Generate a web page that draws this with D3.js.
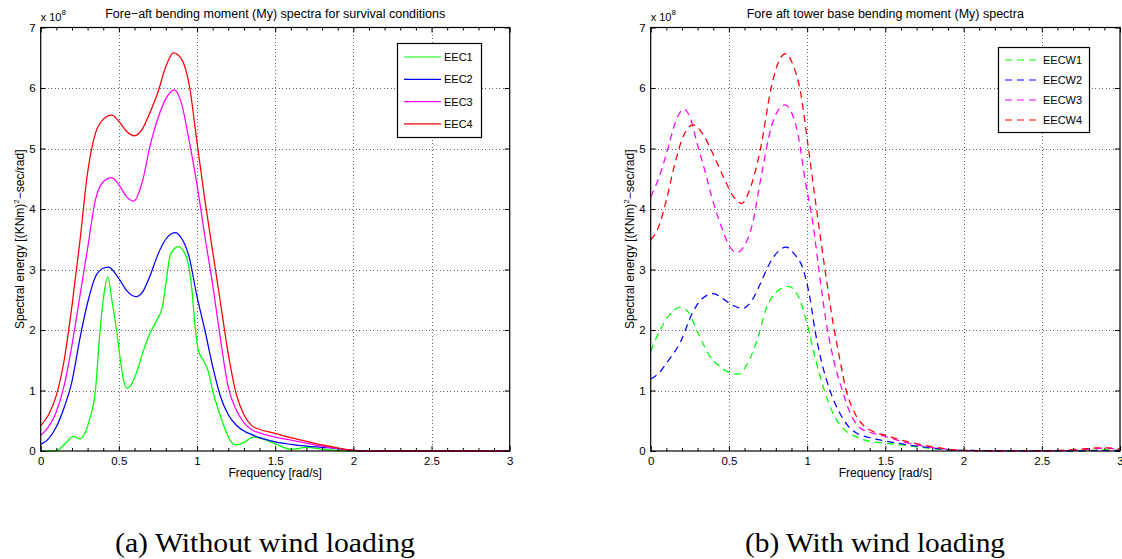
<!DOCTYPE html>
<html>
<head>
<meta charset="utf-8">
<script src="https://cdn.jsdelivr.net/npm/d3@7"></script>
<style>
  html, body { margin: 0; padding: 0; background: #fff; }
  svg { display: block; }
  text { fill: #000; }
</style>
</head>
<body>
<svg id="chart" width="1122" height="559"></svg>
<script>
// Tower-base fore-aft bending moment spectra, values in 1e8 (kNm)^2·s/rad,
// each series given as [frequency rad/s, spectral energy] knots.

// (a) without wind loading
const eec1 = [[0,0],[0.08,0],[0.12,0.03],[0.166,0.15],[0.21,0.24],[0.25,0.2],[0.28,0.28],[0.31,0.5],
  [0.35,1.0],[0.38,2.0],[0.405,2.6],[0.43,2.88],[0.455,2.5],[0.485,2.0],[0.51,1.5],[0.53,1.17],
  [0.55,1.04],[0.58,1.1],[0.62,1.35],[0.656,1.65],[0.7,1.95],[0.74,2.15],[0.78,2.4],[0.8,2.75],
  [0.83,3.25],[0.88,3.38],[0.93,3.22],[0.965,2.72],[0.99,2.0],[1.01,1.65],[1.04,1.5],[1.07,1.33],
  [1.1,1.0],[1.16,0.5],[1.21,0.18],[1.25,0.1],[1.3,0.14],[1.36,0.23],[1.42,0.2],[1.5,0.12],
  [1.6,0.03],[1.7,0.06],[1.8,0.03],[1.9,0.01],[2.0,0],[3,0]];
const eec2 = [[0,0.11],[0.05,0.2],[0.1,0.4],[0.15,0.72],[0.2,1.15],[0.25,1.85],[0.3,2.45],[0.35,2.88],
  [0.4,3.02],[0.433,3.04],[0.5,2.85],[0.55,2.65],[0.61,2.55],[0.65,2.62],[0.7,2.9],[0.75,3.25],
  [0.8,3.5],[0.86,3.61],[0.9,3.52],[0.95,3.2],[1.0,2.55],[1.05,2.0],[1.1,1.4],[1.15,0.9],
  [1.2,0.6],[1.25,0.43],[1.3,0.33],[1.35,0.27],[1.4,0.22],[1.5,0.15],[1.6,0.11],[1.7,0.08],
  [1.8,0.06],[1.9,0.04],[2.0,0.01],[2.1,0],[3,0]];
const eec3 = [[0,0.26],[0.05,0.4],[0.1,0.65],[0.15,1.08],[0.2,1.75],[0.25,2.55],[0.3,3.35],[0.35,4.15],
  [0.4,4.45],[0.454,4.52],[0.5,4.4],[0.55,4.2],[0.595,4.13],[0.65,4.45],[0.7,5.05],[0.75,5.5],
  [0.8,5.82],[0.855,5.97],[0.9,5.75],[0.95,5.12],[1.0,4.4],[1.05,3.55],[1.1,2.75],[1.15,1.85],
  [1.2,1.05],[1.25,0.68],[1.3,0.47],[1.35,0.35],[1.4,0.3],[1.5,0.23],[1.6,0.18],[1.7,0.13],
  [1.8,0.08],[1.9,0.04],[2.0,0.01],[2.1,0],[3,0]];
const eec4 = [[0,0.42],[0.05,0.6],[0.1,0.92],[0.15,1.5],[0.2,2.4],[0.25,3.45],[0.3,4.6],[0.35,5.25],
  [0.4,5.48],[0.454,5.55],[0.5,5.45],[0.55,5.28],[0.597,5.21],[0.65,5.32],[0.7,5.6],[0.75,5.93],
  [0.8,6.35],[0.849,6.58],[0.9,6.48],[0.95,6.05],[1.0,5.1],[1.05,4.15],[1.1,3.3],[1.15,2.45],
  [1.2,1.6],[1.25,0.95],[1.3,0.6],[1.35,0.42],[1.4,0.36],[1.5,0.29],[1.6,0.22],[1.7,0.16],
  [1.8,0.1],[1.9,0.05],[2.0,0.01],[2.1,0],[3,0]];

// (b) with wind loading
const eecw1 = [[0,1.65],[0.06,2.0],[0.12,2.25],[0.187,2.375],[0.24,2.3],[0.294,2.0],[0.38,1.56],
  [0.45,1.38],[0.51,1.29],[0.56,1.27],[0.62,1.45],[0.68,1.83],[0.742,2.38],[0.8,2.62],[0.88,2.72],
  [0.95,2.52],[1.0,2.1],[1.05,1.55],[1.11,1.0],[1.17,0.6],[1.24,0.35],[1.3,0.25],[1.38,0.17],
  [1.5,0.13],[1.6,0.1],[1.7,0.07],[1.8,0.04],[1.9,0.02],[2.0,0.01],[2.5,0],[2.8,0.01],[2.9,0.02],[3,0.01]];
const eecw2 = [[0,1.19],[0.05,1.28],[0.1,1.45],[0.19,1.8],[0.27,2.3],[0.33,2.52],[0.4,2.6],[0.46,2.52],
  [0.53,2.4],[0.59,2.36],[0.65,2.5],[0.7,2.76],[0.76,3.1],[0.815,3.3],[0.865,3.37],[0.92,3.25],
  [0.975,3.0],[1.02,2.5],[1.05,2.0],[1.09,1.5],[1.146,1.0],[1.21,0.62],[1.26,0.42],[1.32,0.29],
  [1.4,0.22],[1.5,0.165],[1.6,0.12],[1.7,0.08],[1.8,0.05],[1.9,0.02],[2.0,0.01],[2.5,0],[3,0.01]];
const eecw3 = [[0,4.2],[0.05,4.5],[0.11,5.0],[0.16,5.45],[0.213,5.65],[0.26,5.45],[0.3,5.05],[0.35,4.6],
  [0.39,4.2],[0.45,3.72],[0.5,3.4],[0.55,3.28],[0.6,3.4],[0.646,3.71],[0.71,4.59],[0.77,5.35],
  [0.82,5.65],[0.86,5.72],[0.9,5.6],[0.944,5.2],[0.987,4.48],[1.04,3.71],[1.075,3.0],[1.13,2.0],
  [1.17,1.5],[1.225,1.0],[1.28,0.6],[1.33,0.4],[1.4,0.31],[1.5,0.24],[1.6,0.16],[1.7,0.1],
  [1.8,0.06],[1.9,0.03],[2.0,0.01],[2.4,0],[2.7,0.01],[2.8,0.03],[2.9,0.05],[2.95,0.04],[3,0.03]];
const eecw4 = [[0,3.49],[0.05,3.7],[0.1,4.15],[0.15,4.7],[0.2,5.15],[0.272,5.39],[0.33,5.25],[0.4,4.9],
  [0.47,4.5],[0.53,4.2],[0.582,4.09],[0.63,4.3],[0.7,4.97],[0.77,6.0],[0.82,6.45],[0.863,6.57],
  [0.91,6.38],[0.955,5.97],[1.01,4.97],[1.06,4.0],[1.114,3.0],[1.17,2.05],[1.21,1.5],[1.25,1.0],
  [1.3,0.65],[1.35,0.45],[1.4,0.35],[1.45,0.29],[1.5,0.26],[1.6,0.18],[1.7,0.12],[1.8,0.07],
  [1.9,0.03],[2.0,0.01],[2.3,0],[2.6,0.01],[2.75,0.03],[2.85,0.05],[2.92,0.05],[3,0.03]];

const namesA = ["EEC1", "EEC2", "EEC3", "EEC4"];
const namesB = ["EECW1", "EECW2", "EECW3", "EECW4"];
const seriesColors = ["#00ff00", "#0000ff", "#ff00ff", "#ff0000"];

const freqTicks = [0, 0.5, 1, 1.5, 2, 2.5, 3];
const freqTickLabels = ["0", "0.5", "1", "1.5", "2", "2.5", "3"];
const energyTicks = [0, 1, 2, 3, 4, 5, 6, 7];
const energyTickLabels = ["0", "1", "2", "3", "4", "5", "6", "7"];

const titles = ["Fore\u2212aft bending moment (My) spectra for survival conditions",
                "Fore aft tower base bending moment (My) spectra"];
const captions = ["(a) Without wind loading", "(b) With wind loading"];

const SANS = "'Liberation Sans', Arial, sans-serif";
const SERIF = "'Liberation Serif', 'Times New Roman', serif";

const svg = d3.select("#chart");
svg.append("rect").attr("width", 1122).attr("height", 559).attr("fill", "#fff");

const panels = [
  { left: 40.7, right: 509.7, series: [eec1, eec2, eec3, eec4], names: namesA, dash: null,
    title: titles[0], caption: captions[0], capX: 265, capW: 300,
    legend: { x: 397, y: 43, w: 84, h: 94, line0: 404, line1: 441, textX: 444, row0: 57, step: 22.3 } },
  { left: 650.7, right: 1120, series: [eecw1, eecw2, eecw3, eecw4], names: namesB, dash: "7,5",
    title: titles[1], caption: captions[1], capX: 875, capW: 260,
    legend: { x: 998, y: 47, w: 91, h: 85, line0: 1005, line1: 1038, textX: 1043, row0: 60, step: 20 } }
];
const plotTop = 27.5, plotBottom = 451;

panels.forEach(p => {
  const x = d3.scaleLinear().domain([0, 3]).range([p.left, p.right]);
  const y = d3.scaleLinear().domain([0, 7]).range([plotBottom, plotTop]);
  const g = svg.append("g").style("font-family", SANS);

  // dotted grid at the major ticks
  const gridStyle = sel => sel.attr("stroke", "#666").attr("stroke-width", 1)
    .attr("stroke-dasharray", "1,2.5").attr("shape-rendering", "crispEdges");
  g.selectAll(".vg").data(freqTicks.slice(1, -1)).join("line")
    .attr("x1", d => Math.round(x(d)) + 0.5).attr("x2", d => Math.round(x(d)) + 0.5)
    .attr("y1", plotTop).attr("y2", plotBottom).call(gridStyle);
  g.selectAll(".hg").data(energyTicks.slice(1, -1)).join("line")
    .attr("x1", p.left).attr("x2", p.right)
    .attr("y1", d => Math.round(y(d)) + 0.5).attr("y2", d => Math.round(y(d)) + 0.5).call(gridStyle);

  // spectra
  const line = d3.line().x(d => x(d[0])).y(d => y(d[1])).curve(d3.curveMonotoneX);
  p.series.forEach((s, i) => {
    g.append("path").datum(s).attr("d", line).attr("fill", "none")
      .attr("stroke", seriesColors[i]).attr("stroke-width", 1.25)
      .attr("stroke-dasharray", p.dash);
  });

  // axes: bottom/left with labels, top/right mirrored, ticks pointing inward
  const minor = d3.range(1, 30).map(k => k / 10).filter(v => Math.abs(v * 2 - Math.round(v * 2)) > 1e-6);
  const xAxis = d3.axisBottom(x).tickValues(freqTicks).tickSize(-5).tickPadding(6)
    .tickFormat((d, i) => freqTickLabels[i]);
  const yAxis = d3.axisLeft(y).tickValues(energyTicks).tickSize(-5).tickPadding(5)
    .tickFormat((d, i) => energyTickLabels[i]);
  const styleAxis = ax => {
    ax.select(".domain").remove();
    ax.attr("font-family", null);
    ax.selectAll("line").attr("stroke", "#000");
    ax.selectAll("text").attr("font-size", 11.5);
  };
  g.append("g").attr("transform", `translate(0,${plotBottom})`).call(xAxis).call(styleAxis);
  g.append("g").attr("transform", `translate(${p.left},0)`).call(yAxis).call(styleAxis);
  g.append("g").attr("transform", `translate(0,${plotTop})`)
    .call(d3.axisTop(x).tickValues(freqTicks).tickSize(-5).tickFormat(""))
    .call(styleAxis);
  g.append("g").attr("transform", `translate(${p.right},0)`)
    .call(d3.axisRight(y).tickValues(energyTicks).tickSize(-5).tickFormat(""))
    .call(styleAxis);
  g.append("g").attr("transform", `translate(0,${plotBottom})`)
    .call(d3.axisBottom(x).tickValues(minor).tickSize(-3).tickFormat("")).call(styleAxis);
  g.append("g").attr("transform", `translate(0,${plotTop})`)
    .call(d3.axisTop(x).tickValues(minor).tickSize(-3).tickFormat("")).call(styleAxis);

  // frame
  g.append("rect").attr("x", p.left).attr("y", plotTop).attr("width", p.right - p.left)
    .attr("height", plotBottom - plotTop).attr("fill", "none").attr("stroke", "#000").attr("stroke-width", 1.2);

  // exponent marker
  const ex = g.append("text").attr("x", p.left).attr("y", 21).attr("font-size", 11);
  ex.append("tspan").text("x 10");
  ex.append("tspan").attr("dy", -6).attr("font-size", 8).text("8");

  // title and axis labels
  g.append("text").attr("x", (p.left + p.right) / 2).attr("y", 18).attr("text-anchor", "middle")
    .attr("font-size", 12.5).text(p.title);
  g.append("text").attr("x", (p.left + p.right) / 2).attr("y", 477).attr("text-anchor", "middle")
    .attr("font-size", 12).text("Frequency [rad/s]");
  const yl = g.append("text").attr("transform", `translate(${p.left - 17},${(plotTop + plotBottom) / 2}) rotate(-90)`)
    .attr("text-anchor", "middle").attr("font-size", 12);
  yl.append("tspan").text("Spectral energy [(KNm)");
  yl.append("tspan").attr("dy", -5).attr("font-size", 8).text("2");
  yl.append("tspan").attr("dy", 5).text("\u2212sec/rad]");

  // legend
  const L = p.legend;
  const lg = g.append("g");
  lg.append("rect").attr("x", L.x + 0.5).attr("y", L.y + 0.5).attr("width", L.w).attr("height", L.h)
    .attr("fill", "#fff").attr("stroke", "#000").attr("stroke-width", 1.2);
  p.names.forEach((n, i) => {
    const yy = L.row0 + i * L.step;
    lg.append("line").attr("x1", L.line0).attr("x2", L.line1).attr("y1", yy).attr("y2", yy)
      .attr("stroke", seriesColors[i]).attr("stroke-width", 1.2).attr("stroke-dasharray", p.dash);
    lg.append("text").attr("x", L.textX).attr("y", yy + 4).attr("font-size", 11).text(n);
  });

  // caption
  svg.append("text").attr("x", p.capX).attr("y", 552).attr("text-anchor", "middle")
    .style("font-family", SERIF).attr("font-size", 27)
    .attr("textLength", p.capW).attr("lengthAdjust", "spacingAndGlyphs")
    .text(p.caption);
});
</script>
</body>
</html>
